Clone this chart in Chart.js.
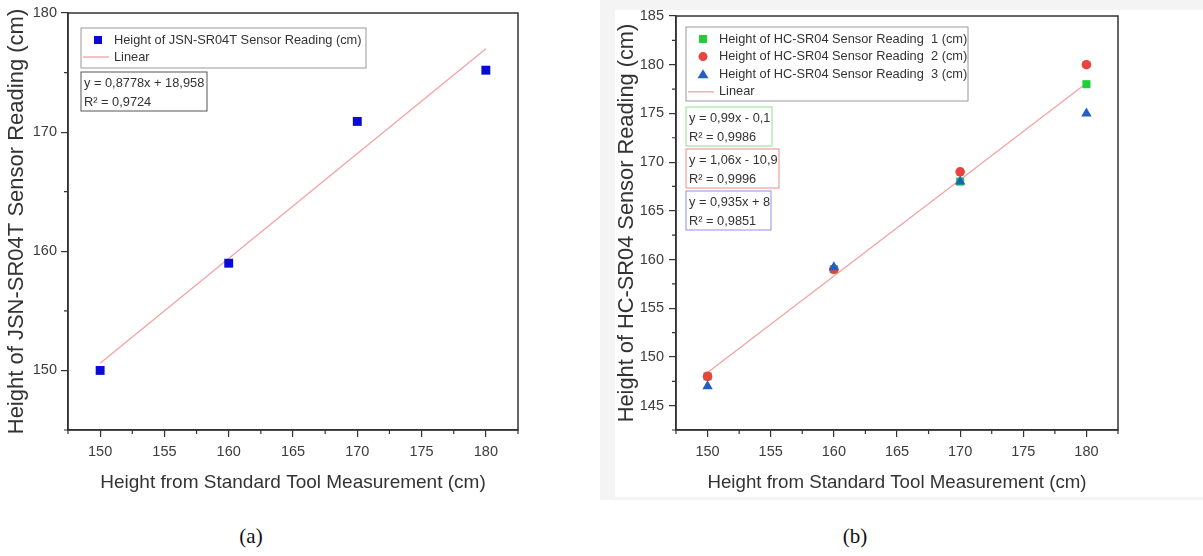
<!DOCTYPE html>
<html>
<head>
<meta charset="utf-8">
<script src="https://cdn.jsdelivr.net/npm/chart.js@4.4.1/dist/chart.umd.min.js"></script>
<style>
  body { margin: 0; background: #fff; width: 1203px; height: 556px; position: relative; overflow: hidden; }
  .panel { position: absolute; top: 0; height: 500px; }
  #panelA { left: 0; width: 600px; }
  #panelB { left: 600px; width: 603px; background: #f4f4f4; }
  #panelB .inner { position: absolute; left: 15px; top: 10px; right: 0; bottom: 3px; background: #fff; }
  canvas { position: absolute; left: 0; top: 0; }
  .caption { position: absolute; top: 524px; font-family: "Liberation Serif", "Times New Roman", serif; font-size: 21px; color: #111; transform: translateX(-50%); }
</style>
</head>
<body>
<div class="panel" id="panelA"><canvas id="chartA" width="600" height="500"></canvas></div>
<div class="panel" id="panelB"><div class="inner"></div><canvas id="chartB" width="603" height="500"></canvas></div>
<div class="caption" style="left:251px">(a)</div>
<div class="caption" style="left:855px">(b)</div>
<script>
'use strict';
// standard tool measurement (x) for both charts
const standardHeights = [150, 160, 170, 180];

// (a) JSN-SR04T
const jsnReading = [150, 159, 170.9, 175.2];
const jsnLinear = [150.6, 177.0];          // fitted line at x = 150 and 180
const jsnEquation = ['y = 0,8778x + 18,958', 'R² = 0,9724'];

// (b) HC-SR04, three readings
const hcReading1 = [148, 159, 168, 178];
const hcReading2 = [148, 159, 169, 180];
const hcReading3 = [147, 159.2, 168, 175];
const hcLinear = [148.4, 178.1];
const hcEquations = [
    ['y = 0,99x - 0,1', 'R² = 0,9986'],
    ['y = 1,06x - 10,9', 'R² = 0,9996'],
    ['y = 0,935x + 8', 'R² = 0,9851']
];

// tick labels
const xTickLabels = [150, 155, 160, 165, 170, 175, 180];
const yTickLabelsA = [150, 160, 170, 180];
const yTickLabelsB = [145, 150, 155, 160, 165, 170, 175, 180, 185];

const FONT = '"Liberation Sans", Arial, sans-serif';
const lineColor = '#f2a3a3';

function pts(ys) {
    return ys.map((y, i) => ({ x: standardHeights[i], y: y }));
}
function linePts(ys) {
    return [{ x: standardHeights[0], y: ys[0] }, { x: standardHeights[standardHeights.length - 1], y: ys[1] }];
}

// frame around plot, short minor ticks, legend and equation boxes
const boxesPlugin = {
    id: 'boxes',
    afterDraw(chart, args, opts) {
        const ctx = chart.ctx;
        const a = chart.chartArea;
        ctx.save();
        ctx.strokeStyle = '#333';
        ctx.lineWidth = 1.5;
        ctx.strokeRect(a.left, a.top, a.right - a.left, a.bottom - a.top);

        // minor ticks (the unlabeled ones)
        ctx.lineWidth = 1.2;
        ctx.beginPath();
        chart.scales.x.ticks.forEach(t => {
            if (t.label !== '') return;
            const px = chart.scales.x.getPixelForValue(t.value);
            ctx.moveTo(px, a.bottom);
            ctx.lineTo(px, a.bottom + 4);
        });
        chart.scales.y.ticks.forEach(t => {
            if (t.label !== '') return;
            const py = chart.scales.y.getPixelForValue(t.value);
            ctx.moveTo(a.left, py);
            ctx.lineTo(a.left - 4, py);
        });
        ctx.stroke();

        ctx.font = '12.8px ' + FONT;
        ctx.textBaseline = 'middle';
        ctx.textAlign = 'left';

        // legend
        const lg = opts.legend;
        const lx = a.left + lg.dx, ly = a.top + lg.dy;
        ctx.lineWidth = 1;
        ctx.strokeStyle = '#999';
        ctx.strokeRect(lx, ly, lg.w, lg.h);
        lg.items.forEach((it, i) => {
            const cy = ly + 12 + i * lg.rowH;
            const mx = lx + 17;
            if (it.type === 'line') {
                ctx.strokeStyle = lineColor;
                ctx.lineWidth = 1.3;
                ctx.beginPath();
                ctx.moveTo(lx + 2, cy);
                ctx.lineTo(lx + 28, cy);
                ctx.stroke();
            } else {
                ctx.fillStyle = it.color;
                ctx.beginPath();
                if (it.type === 'rect') {
                    ctx.rect(mx - 4, cy - 4, 8, 8);
                } else if (it.type === 'circle') {
                    ctx.arc(mx, cy, 4.5, 0, Math.PI * 2);
                } else {
                    ctx.moveTo(mx, cy - 5);
                    ctx.lineTo(mx + 5.5, cy + 4);
                    ctx.lineTo(mx - 5.5, cy + 4);
                    ctx.closePath();
                }
                ctx.fill();
            }
            ctx.fillStyle = '#333';
            ctx.fillText(it.text, lx + 33, cy);
        });

        // equation boxes
        opts.equations.forEach(eq => {
            const ex = a.left + eq.dx, ey = a.top + eq.dy;
            ctx.strokeStyle = eq.border;
            ctx.lineWidth = 1;
            ctx.strokeRect(ex, ey, eq.w, 39);
            ctx.fillStyle = '#333';
            ctx.fillText(eq.lines[0], ex + 3, ey + 11);
            ctx.fillText(eq.lines[1], ex + 3, ey + 30);
        });
        ctx.restore();
    }
};

function axis(min, max, step, labels, title, titleSize, sizeProp, size, titlePad, tickPad) {
    return {
        type: 'linear',
        min: min,
        max: max,
        ticks: {
            stepSize: step,
            autoSkip: false,
            maxRotation: 0,
            padding: tickPad,
            color: '#3c3c3c',
            font: { family: FONT, size: 14.5 },
            callback: v => labels.includes(v) ? String(v) : ''
        },
        grid: {
            drawOnChartArea: false,
            drawTicks: true,
            tickLength: 7,
            lineWidth: 1.2,
            color: '#333',
            // only labeled ticks get the long mark, minor ones are drawn short by the plugin
            tickColor: c => (c.tick && labels.includes(c.tick.value)) ? '#333' : 'rgba(0,0,0,0)'
        },
        border: { display: true, color: '#333', width: 1.5 },
        title: { display: true, text: title, color: '#333', font: { family: FONT, size: titleSize }, padding: titlePad },
        afterFit: s => { s[sizeProp] = size; }
    };
}

new Chart(document.getElementById('chartA'), {
    type: 'scatter',
    data: {
        datasets: [
            {
                label: 'Height of JSN-SR04T Sensor Reading (cm)',
                data: pts(jsnReading),
                pointStyle: 'rect',
                pointRadius: 6.3,
                backgroundColor: '#0a0ad8',
                borderColor: '#0a0ad8',
                borderWidth: 0,
                order: 1
            },
            {
                label: 'Linear',
                type: 'line',
                data: linePts(jsnLinear),
                borderColor: lineColor,
                borderWidth: 1.3,
                pointRadius: 0,
                order: 2
            }
        ]
    },
    options: {
        responsive: false,
        animation: false,
        layout: { padding: { left: 0, top: 13, right: 82, bottom: 0 } },
        scales: {
            x: axis(147.5, 182.5, 2.5, xTickLabels, 'Height from Standard Tool Measurement (cm)', 19, 'height', 70, { top: 0, bottom: 5.6 }, 6),
            y: axis(145, 180, 5, yTickLabelsA, 'Height of JSN-SR04T Sensor Reading (cm)', 22, 'width', 68, { top: 4, bottom: 0 }, 4)
        },
        plugins: {
            legend: { display: false },
            tooltip: { enabled: false },
            boxes: {
                legend: {
                    dx: 13, dy: 15, w: 285, h: 40, rowH: 17,
                    items: [
                        { type: 'rect', color: '#0a0ad8', text: 'Height of JSN-SR04T Sensor Reading (cm)' },
                        { type: 'line', text: 'Linear' }
                    ]
                },
                equations: [
                    { dx: 13, dy: 59, w: 126, border: '#555', lines: jsnEquation }
                ]
            }
        }
    },
    plugins: [boxesPlugin]
});

const green = '#1fcf3a', red = '#e8433c', blue = '#2060c4';

new Chart(document.getElementById('chartB'), {
    type: 'scatter',
    data: {
        datasets: [
            {
                label: 'Height of HC-SR04 Sensor Reading  1 (cm)',
                data: pts(hcReading1),
                pointStyle: 'rect',
                pointRadius: 5.7,
                backgroundColor: green,
                borderWidth: 0,
                order: 3
            },
            {
                label: 'Height of HC-SR04 Sensor Reading  2 (cm)',
                data: pts(hcReading2),
                pointStyle: 'circle',
                pointRadius: 4.8,
                backgroundColor: red,
                borderWidth: 0,
                order: 2
            },
            {
                label: 'Height of HC-SR04 Sensor Reading  3 (cm)',
                data: pts(hcReading3),
                pointStyle: 'triangle',
                pointRadius: 6,
                backgroundColor: blue,
                borderWidth: 0,
                order: 1
            },
            {
                label: 'Linear',
                type: 'line',
                data: linePts(hcLinear),
                borderColor: lineColor,
                borderWidth: 1.3,
                pointRadius: 0,
                order: 4
            }
        ]
    },
    options: {
        responsive: false,
        animation: false,
        layout: { padding: { left: 0, top: 16, right: 85, bottom: 0 } },
        scales: {
            x: axis(147.5, 182.5, 2.5, xTickLabels, 'Height from Standard Tool Measurement (cm)', 18.7, 'height', 70, { top: 0, bottom: 5.6 }, 6),
            y: axis(142.5, 185, 2.5, yTickLabelsB, 'Height of HC-SR04 Sensor Reading (cm)', 21.8, 'width', 76, { top: 14, bottom: 0 }, 5)
        },
        plugins: {
            legend: { display: false },
            tooltip: { enabled: false },
            boxes: {
                legend: {
                    dx: 10, dy: 11, w: 282, h: 74, rowH: 17.6,
                    items: [
                        { type: 'rect', color: green, text: 'Height of HC-SR04 Sensor Reading  1 (cm)' },
                        { type: 'circle', color: red, text: 'Height of HC-SR04 Sensor Reading  2 (cm)' },
                        { type: 'triangle', color: blue, text: 'Height of HC-SR04 Sensor Reading  3 (cm)' },
                        { type: 'line', text: 'Linear' }
                    ]
                },
                equations: [
                    { dx: 10, dy: 91, w: 86, border: '#8fe08f', lines: hcEquations[0] },
                    { dx: 10, dy: 133, w: 93, border: '#f08a8a', lines: hcEquations[1] },
                    { dx: 10, dy: 175, w: 85, border: '#8f8fe6', lines: hcEquations[2] }
                ]
            }
        }
    },
    plugins: [boxesPlugin]
});
</script>
</body>
</html>
